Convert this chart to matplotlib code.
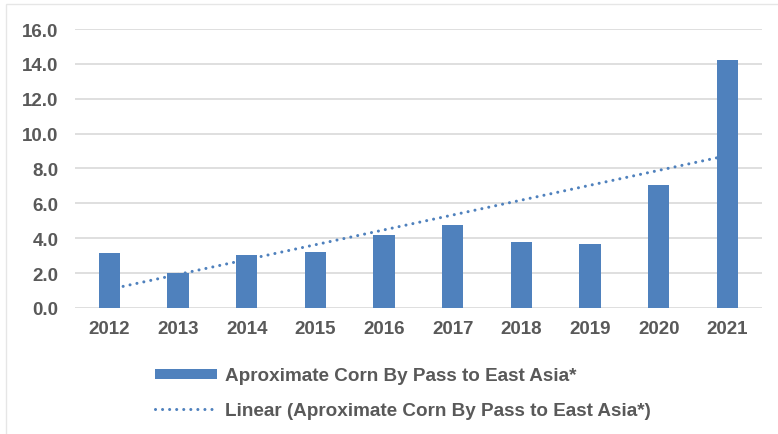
import matplotlib
matplotlib.use("Agg")
import matplotlib.pyplot as plt
from matplotlib.patches import Rectangle
import numpy as np

# data
years = ["2012", "2013", "2014", "2015", "2016", "2017", "2018", "2019", "2020", "2021"]
corn_bypass = [3.14, 1.99, 3.04, 3.19, 4.19, 4.77, 3.80, 3.67, 7.05, 14.22]
y_ticks = [0, 2, 4, 6, 8, 10, 12, 14, 16]

bar_label = "Aproximate Corn By Pass to East Asia*"
trend_label = "Linear (Aproximate Corn By Pass to East Asia*)"

BLUE = "#4F81BD"
TEXT = "#595959"
GRID = "#D9D9D9"

plt.rcParams['font.family'] = ['Liberation Sans', 'DejaVu Sans']

fig = plt.figure(figsize=(7.78, 4.35), dpi=100)
ax = fig.add_axes([0.0964, 0.2897, 0.8826, 0.6413])

x = np.arange(len(years))

# linear trendline (least squares on the series, like Excel)
slope, intercept = np.polyfit(x + 1, corn_bypass, 1)
trend = slope * (x + 1) + intercept
line, = ax.plot(x, trend, color=BLUE, linewidth=2.2,
                linestyle=(0, (0.01, 2.3)), dash_capstyle='round',
                zorder=2, label=trend_label)

bars = ax.bar(x, corn_bypass, width=0.31, color=BLUE, zorder=3, label=bar_label)

ax.set_xlim(-0.5, len(years) - 0.5)
ax.set_ylim(0, 16)
ax.set_yticks(y_ticks)
ax.set_yticklabels(["%.1f" % v for v in y_ticks])
ax.set_xticks(x)
ax.set_xticklabels(years)

ax.grid(axis='y', color=GRID, linewidth=1.2, zorder=0)
ax.set_axisbelow(True)
for s in ax.spines.values():
    s.set_visible(False)
ax.tick_params(length=0, labelsize=13.5, labelcolor=TEXT, pad=9)
ax.tick_params(axis='y', pad=12)
for t in ax.get_xticklabels() + ax.get_yticklabels():
    t.set_fontweight('bold')

leg = fig.legend([bars, line], [bar_label, trend_label],
                 loc='upper left', bbox_to_anchor=(0.199, 0.153),
                 frameon=False, borderpad=0, borderaxespad=0, handlelength=3.3,
                 handleheight=0.45, handletextpad=0.4, labelspacing=0.95,
                 prop={'size': 13.6, 'weight': 'bold'})
for t in leg.get_texts():
    t.set_color(TEXT)

# thin light border (only top and left edges fall inside the canvas)
fig.patches.append(Rectangle((0.008, -0.02), 1.1, 1.0085, transform=fig.transFigure,
                             fill=False, edgecolor="#E6E6E6", linewidth=1))

fig.savefig("out.png", dpi=100)
